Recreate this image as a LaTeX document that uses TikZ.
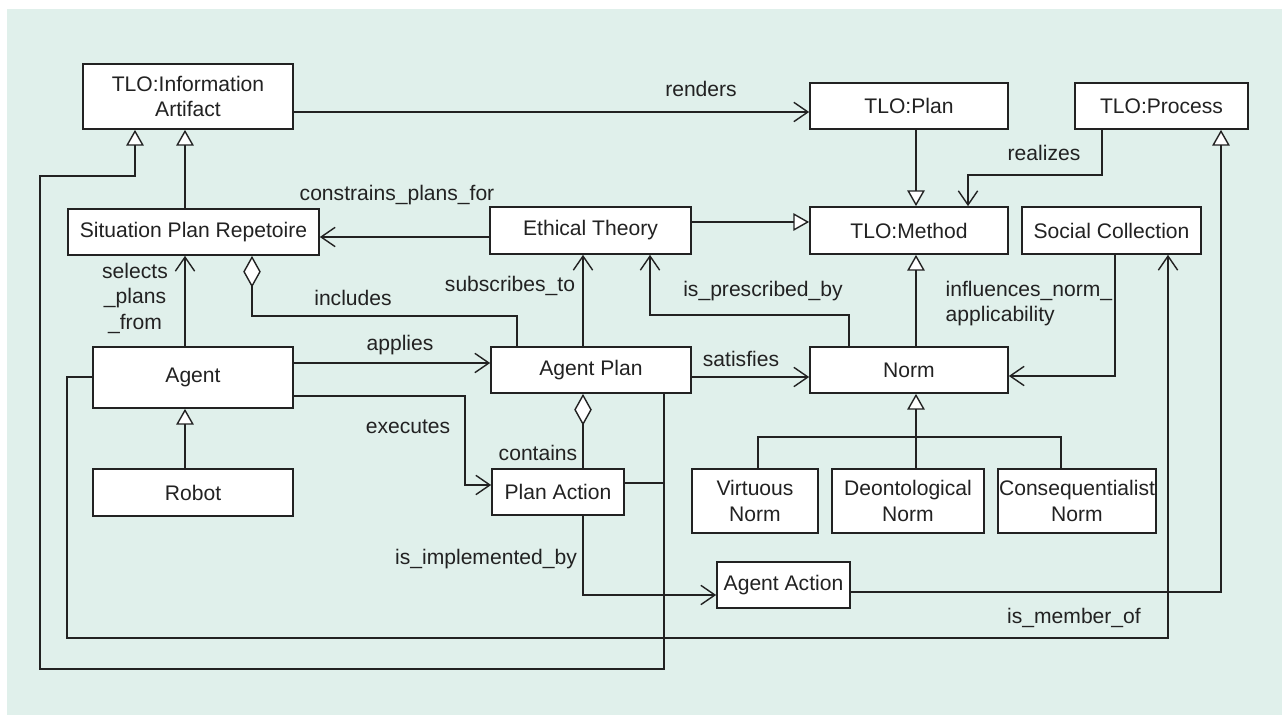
\documentclass[tikz,border=0pt]{standalone}
\usepackage{fontspec}
\setmainfont{Liberation Sans}
\usetikzlibrary{arrows.meta}
\definecolor{panel}{HTML}{E0F0EB}
\definecolor{ink}{HTML}{222222}

\begin{document}
\begin{tikzpicture}[x=0.02cm,y=-0.02cm,color=ink,line width=0.8pt,
        font=\fontsize{12}{14.5}\selectfont,
        cls/.style n args={2}{draw,fill=white,rectangle,inner sep=0pt,align=center,
            line width=1pt,minimum width=#1,minimum height=#2},
        lbl/.style={inner sep=0pt,align=center},
        assoc/.style={-{Straight Barb[length=8pt,width=11pt]}},
        gen/.style={-{Triangle[open,fill=white,length=9pt,width=10pt]}},
        aggr/.style={{Diamond[open,fill=white,length=18pt,width=10pt]}-}]
        \useasboundingbox (0,0) rectangle (1285,715);
        \fill[panel] (7,9) rectangle (1282,715);

        \node[cls={4.2cm}{1.3cm}] (info) at (188,96.5) {TLO:Information\\Artifact};
        \node[cls={3.96cm}{0.92cm}] (plan) at (909,106) {TLO:Plan};
        \node[cls={3.46cm}{0.92cm}] (process) at (1161.5,106) {TLO:Process};
        \node[cls={5.02cm}{0.92cm}] (spr) at (193.5,232) {Situation Plan Repetoire};
        \node[cls={4.02cm}{0.94cm}] (ethic) at (590.5,230.5) {Ethical Theory};
        \node[cls={3.96cm}{0.94cm}] (method) at (909,230.5) {TLO:Method};
        \node[cls={3.58cm}{0.94cm}] (social) at (1111.5,230.5) {Social Collection};
        \node[cls={4cm}{1.22cm}] (agent) at (193,377.5) {Agent};
        \node[cls={4cm}{0.92cm}] (aplan) at (591,370) {Agent Plan};
        \node[cls={3.96cm}{0.92cm}] (norm) at (909,370) {Norm};
        \node[cls={4cm}{0.94cm}] (robot) at (193,492.5) {Robot};
        \node[cls={2.64cm}{0.92cm}] (paction) at (558,492) {Plan Action};
        \node[cls={2.52cm}{1.28cm}] (virt) at (755,501) {Virtuous\\Norm};
        \node[cls={3.04cm}{1.28cm}] (deon) at (908,501) {Deontological\\Norm};
        \node[cls={3.16cm}{1.28cm}] (cons) at (1077,501) {Consequentialist\\Norm};
        \node[cls={2.66cm}{0.92cm}] (aaction) at (783.5,585) {Agent Action};

        \draw[assoc] (info.east |- 0,112) -- (plan.west |- 0,112);
        \draw[gen] (185,0 |- spr.north) -- (185,0 |- info.south);
        \draw[gen] (664,0 |- aplan.south) -- (664,669) -- (40,669) -- (40,176) -- (135,176) -- (135,0 |- info.south);
        \draw (paction.east |- 0,483) -- (664,483);
        \draw[assoc] (ethic.west |- 0,237) -- (spr.east |- 0,237);
        \draw[gen] (ethic.east |- 0,222) -- (method.west |- 0,222);
        \draw[gen] (916,0 |- plan.south) -- (916,0 |- method.north);
        \draw[assoc] (1102,0 |- process.south) -- (1102,175) -- (968,175) -- (968,0 |- method.north);
        \draw[gen] (aaction.east |- 0,592) -- (1221,592) -- (1221,0 |- process.south);
        \draw[assoc] (agent.west |- 0,377) -- (67,377) -- (67,638) -- (1168,638) -- (1168,0 |- social.south);
        \draw[assoc] (1115,0 |- social.south) -- (1115,376) -- (norm.east |- 0,376);
        \draw[gen] (916,0 |- norm.north) -- (916,0 |- method.south);

        \draw[gen] (916,437) -- (916,0 |- norm.south);
        \draw (758,0 |- virt.north) -- (758,437) -- (1061,437) -- (1061,0 |- cons.north);
        \draw (916,0 |- deon.north) -- (916,437);

        \draw[assoc] (849,0 |- norm.north) -- (849,315) -- (650,315) -- (650,0 |- ethic.south);
        \draw[assoc] (583,0 |- aplan.north) -- (583,0 |- ethic.south);
        \draw[aggr] (252,0 |- spr.south) -- (252,316) -- (517,316) -- (517,0 |- aplan.north);
        \draw[assoc] (185,0 |- agent.north) -- (185,0 |- spr.south);
        \draw[assoc] (agent.east |- 0,363) -- (aplan.west |- 0,363);
        \draw[assoc] (agent.east |- 0,396) -- (465,396) -- (465,485) -- (paction.west |- 0,485);
        \draw[assoc] (aplan.east |- 0,377) -- (norm.west |- 0,377);
        \draw[aggr] (583,0 |- aplan.south) -- (583,0 |- paction.north);
        \draw[gen] (185,0 |- robot.north) -- (185,0 |- agent.south);
        \draw[assoc] (583,0 |- paction.south) -- (583,595) -- (aaction.west |- 0,595);

        \node[lbl] (lrenders) at (701,89) {renders};
        \node[lbl] (lrealizes) at (1044,153) {realizes};
        \node[lbl] (lconstrains) at (397,195) {constrains\_plans\_for};
        \node[lbl] (lsubscribes) at (510,286) {subscribes\_to};
        \node[lbl] (lprescribed) at (763,291) {is\_prescribed\_by};
        \node[lbl] (lincludes) at (353,298) {includes};
        \node[lbl] (lselects) at (135,298) {selects\\\_plans\\\_from};
        \node[lbl,align=left,anchor=west] (linfluences) at (945,303.5) {influences\_norm\_\\applicability};
        \node[lbl] (lapplies) at (400,345) {applies};
        \node[lbl] (lsatisfies) at (741,359) {satisfies};
        \node[lbl] (lexecutes) at (408,427) {executes};
        \node[lbl] (lcontains) at (538,453) {contains};
        \node[lbl] (limplemented) at (486,559) {is\_implemented\_by};
        \node[lbl] (lmember) at (1074,618) {is\_member\_of};
    \end{tikzpicture}
\end{document}
